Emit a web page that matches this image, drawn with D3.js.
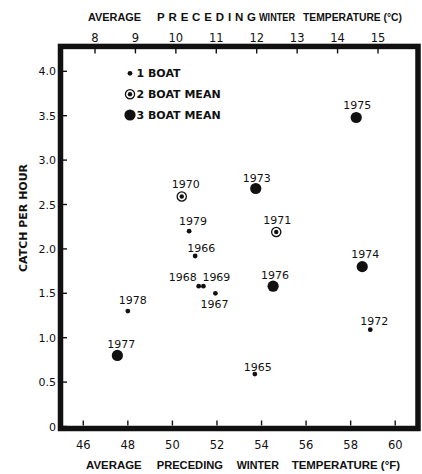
<!DOCTYPE html>
<html>
<head>
<meta charset="utf-8">
<script src="https://cdn.jsdelivr.net/npm/d3@7"></script>
<style>
  body { margin: 0; background: #fff; }
  text { font-family: "DejaVu Sans", sans-serif; fill: #111; }
  .title { font-family: "Liberation Sans", Arial, sans-serif; font-weight: bold; font-size: 11.5px; }
</style>
</head>
<body>
<svg id="chart"></svg>
<script>
// data
const years    = [1965, 1966, 1967, 1968, 1969, 1970, 1971, 1972, 1973, 1974, 1975, 1976, 1977, 1978, 1979];
const tempF    = [53.7, 51.02, 51.93, 51.18, 51.39, 50.42, 54.66, 58.88, 53.74, 58.52, 58.25, 54.52, 47.53, 48.0, 50.75];
const catchHr  = [0.59, 1.92, 1.50, 1.58, 1.58, 2.59, 2.19, 1.09, 2.68, 1.80, 3.48, 1.58, 0.80, 1.30, 2.20];
const boats    = [1, 1, 1, 1, 1, 2, 2, 1, 3, 3, 3, 3, 3, 1, 1];

const fTicks = [46, 48, 50, 52, 54, 56, 58, 60];
const cTicks = [8, 9, 10, 11, 12, 13, 14, 15];
const yTicks = [0, 0.5, 1.0, 1.5, 2.0, 2.5, 3.0, 3.5, 4.0];
const legendItems = [
    { boats: 1, label: "1 BOAT" },
    { boats: 2, label: "2 BOAT MEAN" },
    { boats: 3, label: "3 BOAT MEAN" }
];
const topTitle = ["AVERAGE", "PRECEDING", "WINTER", "TEMPERATURE (°C)"];
const bottomTitle = ["AVERAGE", "PRECEDING", "WINTER", "TEMPERATURE (°F)"];

// label placement (center offset from the point)
const labelOffset = {
    1965: [3, -7], 1966: [6, -8], 1967: [-1, 11], 1968: [-16, -9], 1969: [13, -9],
    1970: [4, -13], 1971: [1, -12], 1972: [4, -9], 1973: [1, -11], 1974: [3, -13],
    1975: [1, -12], 1976: [2, -11], 1977: [4, -11], 1978: [5, -11], 1979: [4, -10]
};
// word spans [start, end] of the axis titles
const topSpans = [[88, 141], [157, 256], [259, 295], [303, 402]];
const bottomSpans = [[86, 141.7], [156.7, 223], [236.7, 279], [291.7, 400]];

const W = 422, H = 474;
const svg = d3.select("#chart").attr("width", W).attr("height", H);

const x = d3.scaleLinear().domain([45, 61]).range([61, 417.5]);
const xC = d3.scaleLinear().domain([7.159, 15.977]).range([61, 417.5]);
const y = d3.scaleLinear().domain([0, 4]).range([426.5, 71.3]);

const data = years.map((yr, i) => ({ year: yr, f: tempF[i], c: catchHr[i], n: boats[i] }));

// frame
svg.append("rect")
    .attr("x", x(45) - 0.5)
    .attr("y", y(4.28))
    .attr("width", x(61) - x(45) + 1)
    .attr("height", y(0) + 2 - y(4.28))
    .attr("fill", "none")
    .attr("stroke", "#111")
    .attr("stroke-width", 5.5);

// bottom axis (F)
const bottomAxis = svg.append("g");
bottomAxis.selectAll("line").data(fTicks).join("line")
    .attr("x1", d => x(d)).attr("x2", d => x(d))
    .attr("y1", y(0) - 1).attr("y2", y(0) - 6)
    .attr("stroke", "#111").attr("stroke-width", 1.4);
bottomAxis.selectAll("text").data(fTicks).join("text")
    .attr("x", d => x(d)).attr("y", 449)
    .attr("text-anchor", "middle")
    .attr("font-size", 11.5)
    .text(d => d);

// top axis (C)
const topAxis = svg.append("g");
topAxis.selectAll("line").data(cTicks).join("line")
    .attr("x1", d => xC(d)).attr("x2", d => xC(d))
    .attr("y1", y(4.28) + 2).attr("y2", y(4.28) + 7)
    .attr("stroke", "#111").attr("stroke-width", 1.4);
topAxis.selectAll("text").data(cTicks).join("text")
    .attr("x", d => xC(d)).attr("y", 42)
    .attr("text-anchor", "middle")
    .attr("font-size", 11.5)
    .text(d => d);

// left axis
const leftAxis = svg.append("g");
leftAxis.selectAll("line").data(yTicks).join("line")
    .attr("x1", x(45) + 2).attr("x2", x(45) + 6)
    .attr("y1", d => y(d)).attr("y2", d => y(d))
    .attr("stroke", "#111").attr("stroke-width", 1.4);
leftAxis.selectAll("text").data(yTicks).join("text")
    .attr("x", 56).attr("y", d => y(d) + 4)
    .attr("text-anchor", "end")
    .attr("font-size", 11)
    .text(d => d === 0 ? "0" : d3.format(".1f")(d));

// axis titles, word by word; squeeze glyphs only when a word is too wide
function drawTitle(words, spans, yPos) {
    svg.append("g").selectAll("text").data(words).join("text")
        .attr("class", "title")
        .attr("x", (d, i) => spans[i][0])
        .attr("y", yPos)
        .text(d => d)
        .each(function(d, i) {
            const target = spans[i][1] - spans[i][0];
            const natural = this.getComputedTextLength();
            d3.select(this)
                .attr("textLength", target)
                .attr("lengthAdjust", natural > target ? "spacingAndGlyphs" : "spacing");
        });
}
drawTitle(topTitle, topSpans, 21);
drawTitle(bottomTitle, bottomSpans, 469);

svg.append("text")
    .attr("transform", "translate(26.5,218) rotate(-90)")
    .attr("text-anchor", "middle")
    .attr("font-size", 11).attr("font-weight", "bold")
    .text("CATCH PER HOUR");

// point symbols
function drawSymbol(g, n) {
    if (n === 1) {
        g.append("circle").attr("r", 2.4).attr("fill", "#111");
    } else if (n === 2) {
        g.append("circle").attr("r", 4.6).attr("fill", "#fff")
            .attr("stroke", "#111").attr("stroke-width", 1.3);
        g.append("circle").attr("r", 2.2).attr("fill", "#111");
    } else {
        g.append("circle").attr("r", 5.6).attr("fill", "#111");
    }
}

const pts = svg.append("g").selectAll("g").data(data).join("g")
    .attr("transform", d => `translate(${x(d.f)},${y(d.c)})`);
pts.each(function(d) { drawSymbol(d3.select(this), d.n); });
pts.append("text")
    .attr("x", d => labelOffset[d.year][0])
    .attr("y", d => labelOffset[d.year][1] + 4)
    .attr("text-anchor", "middle")
    .attr("font-size", 11)
    .text(d => d.year);

// legend
const legendY = [73.3, 94.3, 115];
legendItems.forEach((item, i) => {
    const row = svg.append("g")
        .attr("transform", `translate(130,${legendY[i]})`);
    drawSymbol(row, item.boats);
    row.append("text")
        .attr("x", 6.5)
        .attr("y", 4)
        .attr("font-size", 11).attr("font-weight", "bold")
        .text(item.label);
});
</script>
</body>
</html>
